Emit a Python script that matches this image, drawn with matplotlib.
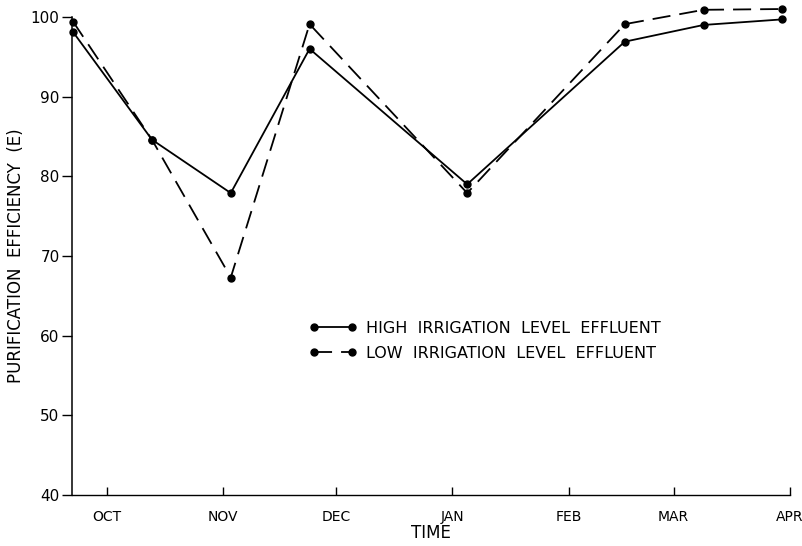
import matplotlib
matplotlib.use("Agg")
import matplotlib.pyplot as plt

# sampling days counted from 1 Oct (every 3 weeks, some gaps)
days = [-9, 12, 33, 54, 96, 138, 159, 180]
high_eff = [98.1, 84.6, 77.9, 96.0, 79.0, 96.9, 99.0, 99.7]
low_eff = [99.4, 84.6, 67.3, 99.1, 77.9, 99.1, 100.9, 101.0]

month_days = [0, 31, 61, 92, 123, 151, 182]
month_labels = ["OCT", "NOV", "DEC", "JAN", "FEB", "MAR", "APR"]
y_ticks = [40, 50, 60, 70, 80, 90, 100]

fig = plt.figure(figsize=(8.03, 5.46), dpi=100)
ax = fig.add_axes([0.0897, 0.0934, 0.894, 0.8755])

ax.plot(days, high_eff, color="black", lw=1.3, marker="o", ms=5,
        clip_on=False, label="HIGH  IRRIGATION  LEVEL  EFFLUENT")
ax.plot(days, low_eff, color="black", lw=1.3, marker="o", ms=5,
        dashes=(10, 5), clip_on=False, label="LOW  IRRIGATION  LEVEL  EFFLUENT")

ax.set_xlim(-9.3, 182)
ax.set_ylim(40, 100)
ax.spines["top"].set_visible(False)
ax.spines["right"].set_visible(False)
ax.spines["left"].set_linewidth(1.1)
ax.spines["bottom"].set_linewidth(1.0)

ax.set_yticks(y_ticks)
ax.set_yticklabels([str(v) for v in y_ticks], fontsize=11)
ax.tick_params(axis="y", direction="out", length=7, width=1, pad=2)
ax.set_xticks(month_days)
ax.set_xticklabels(month_labels, fontsize=10)
ax.tick_params(axis="x", direction="in", length=6, width=1, pad=11)

ax.set_xlabel("TIME", fontsize=12, labelpad=0)
ax.set_ylabel("PURIFICATION  EFFICIENCY  (E)", fontsize=12)
ax.yaxis.set_label_coords(-0.066, 0.5)

ax.legend(loc="upper left", bbox_to_anchor=(0.31, 0.395), frameon=False,
          fontsize=11.5, handlelength=3.0, numpoints=2, handletextpad=0.6,
          labelspacing=0.65)

fig.savefig("out.png", dpi=100)
